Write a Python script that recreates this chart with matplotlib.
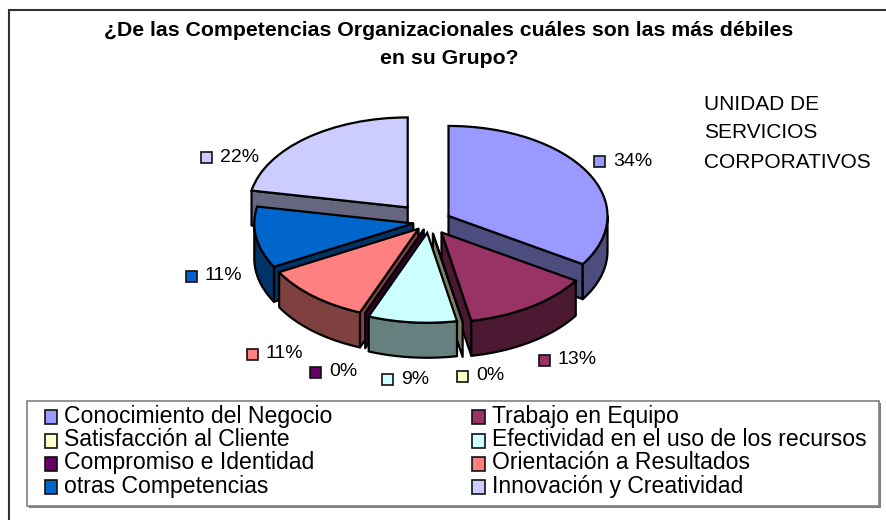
import numpy as np
import matplotlib
matplotlib.use("Agg")
import matplotlib.pyplot as plt
from matplotlib.legend_handler import HandlerPatch
from matplotlib.patches import Patch, Polygon, Rectangle

plt.rcParams['font.family'] = ['Liberation Sans', 'DejaVu Sans']

TITLE = ["¿De las Competencias Organizacionales cuáles son las más débiles", "en su Grupo?"]
NOTE = ["UNIDAD DE", "SERVICIOS", "CORPORATIVOS"]
categories = ["Conocimiento del Negocio", "Trabajo en Equipo", "Satisfacción al Cliente",
              "Efectividad en el uso de los recursos", "Compromiso e Identidad",
              "Orientación a Resultados", "otras Competencias", "Innovación y Creatividad"]
values = [34, 13, 0, 9, 0, 11, 11, 22]

colors = ["#9999FF", "#993366", "#FFFFCC", "#CCFFFF", "#660066", "#FF8080", "#0066CC", "#CCCCFF"]
side_colors = ["#4C4C7F", "#4C1933", "#7F7F66", "#667F7F", "#330033", "#7F4040", "#003366", "#66667F"]
explode = [0.14, 0.14, 0.13, 0.12, 0.09, 0.10, 0.10, 0.21]
label_pos = [(600, 161), (545, 360), (463, 376), (388, 379), (316, 372), (253, 354), (192, 276), (207, 157)]

W, H = 887, 520
CX, CY, RX, RY, DEPTH_PX = 429, 222, 159, 90, 35
EDGE = 1.6

fig = plt.figure(figsize=(W / 100, H / 100), dpi=100, facecolor="white")

# pixel-space overlay for layout elements
bg = fig.add_axes([0, 0, 1, 1])
bg.set_xlim(0, W)
bg.set_ylim(H, 0)
bg.axis("off")
bg.plot([9.5, 9.5, W], [H, 10, 10], color="#333333", lw=1.5, solid_joinstyle="miter")

# pie axes: one data unit = RX px across and RY px down, which gives the ellipse
ax = fig.add_axes([0, 0, 1, 1], facecolor="none")
wedges, _ = ax.pie(values, explode=explode, colors=colors, startangle=90, counterclock=False,
                   radius=1.0, wedgeprops=dict(edgecolor="black", linewidth=EDGE, zorder=50))
ax.set_aspect("auto")
ax.set_xlim(-CX / RX, (W - CX) / RX)
ax.set_ylim(-(H - CY) / RY, CY / RY)
ax.axis("off")

depth = DEPTH_PX / RY
shares = np.array(values, dtype=float) / np.sum(values) * 360
ends = np.cumsum(shares)
starts = ends - shares
mids = (starts + ends) / 2


def unit(t):
    r = np.radians(t)
    return np.array([np.sin(r), np.cos(r)])


order = np.argsort(-np.cos(np.radians(mids)))
for rank, i in enumerate(order):
    t1, t2 = starts[i], ends[i]
    apex = explode[i] * unit(mids[i])
    z = 5 + rank
    style = dict(facecolor=side_colors[i], edgecolor="black", linewidth=EDGE, joinstyle="round", zorder=z)
    for t, visible in ((t1, np.sin(np.radians(t1)) < 0), (t2, np.sin(np.radians(t2)) > 0)):
        if visible:
            rim = apex + unit(t)
            ax.add_patch(Polygon([apex, rim, rim - [0, depth], apex - [0, depth]], closed=True, **style))
    a, b = max(t1, 90), min(t2, 270)
    if b > a:
        arc = np.array([apex + unit(t) for t in np.linspace(a, b, 60)])
        ax.add_patch(Polygon(np.vstack([arc, arc[::-1] - [0, depth]]), closed=True, **style))

# data labels
for v, c, (x, y) in zip(values, colors, label_pos):
    bg.add_patch(Rectangle((x - 5.5, y - 5.5), 11, 11, facecolor=c, edgecolor="#111111", lw=1.2, zorder=3))
    bg.text(x + 13, y, f"{v}%", fontsize=14, va="center", ha="left", color="black")

# title and note
for line, y in zip(TITLE, (30, 59)):
    bg.text(449, y, line, fontsize=15.3, fontweight="bold", ha="center", va="center")
for line, y in zip(NOTE, (104, 133, 162)):
    bg.text(704, y, line, fontsize=15, ha="left", va="center")


def low_square(legend, orig_handle, xdescent, ydescent, width, height, fontsize):
    return Rectangle((-xdescent, -ydescent - 1.8), width, height)


# legend frame with its shadow, then the legend filled row by row
bg.add_patch(Rectangle((29, 403), 852, 104.5, facecolor="#808080", edgecolor="none", zorder=2))
bg.add_patch(Rectangle((27, 401), 852.5, 104.5, facecolor="white", edgecolor="#808080", lw=1.2, zorder=3))
handles = [Patch(facecolor=c, edgecolor="#111111", linewidth=1.2) for c in colors]
idx = [0, 2, 4, 6, 1, 3, 5, 7]
leg = bg.legend([handles[i] for i in idx], [categories[i] for i in idx], ncol=2,
                loc="upper left", bbox_to_anchor=(44.5 / W, 1 - 405 / H), bbox_transform=fig.transFigure,
                fontsize=16.6, frameon=False,
                handlelength=0.56, handleheight=0.56, handletextpad=0.3, labelspacing=0.01,
                columnspacing=6.05, borderpad=0, borderaxespad=0,
                handler_map={Patch: HandlerPatch(patch_func=low_square)})
leg.set_zorder(4)

fig.savefig("out.png", dpi=100)
